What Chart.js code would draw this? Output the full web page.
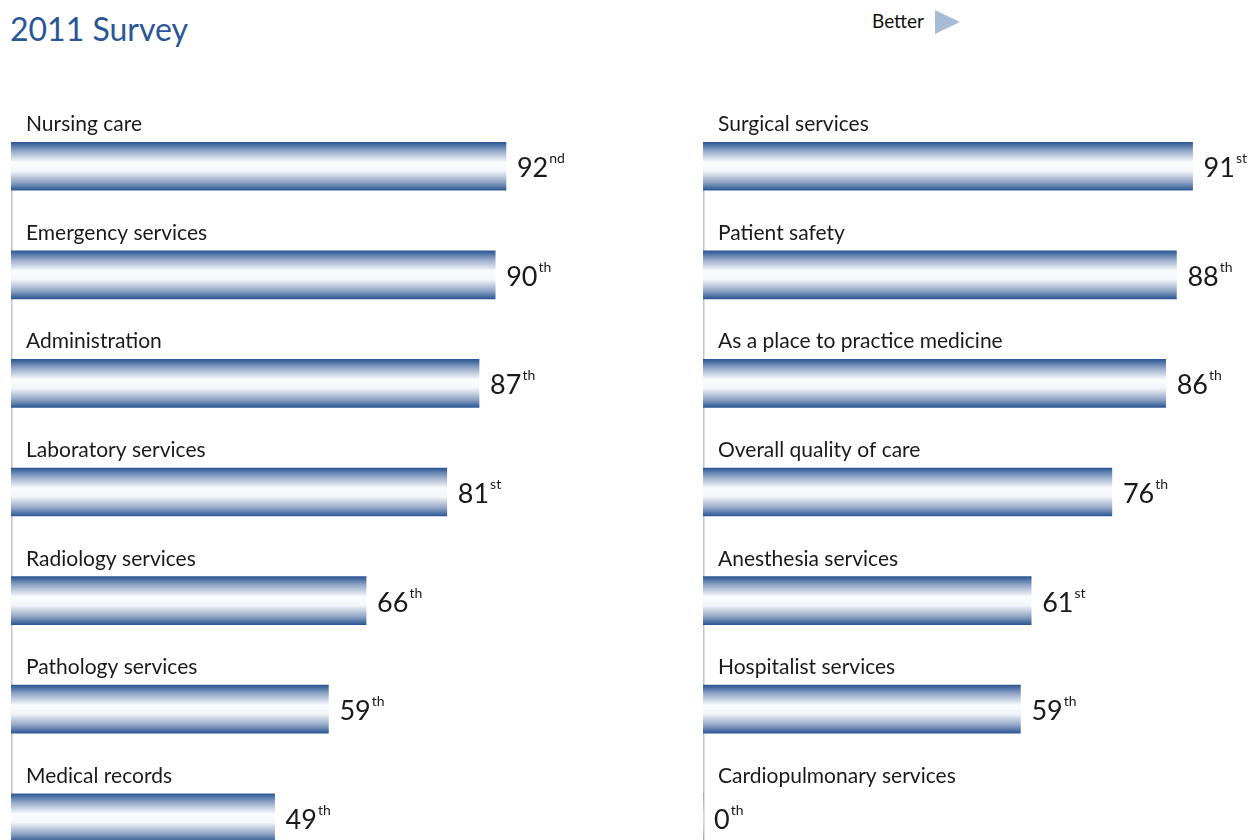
<!DOCTYPE html>
<html>
<head>
<meta charset="utf-8">
<script src="https://cdn.jsdelivr.net/npm/chart.js@4.4.1/dist/chart.umd.min.js"></script>
<style>
  html, body { margin: 0; padding: 0; background: #fff; overflow: hidden; width: 1253px; height: 840px; }
  body { position: relative; font-family: Lato, "Noto Sans", sans-serif; }
  #title { position: absolute; left: 10px; top: 9px; font-size: 32px; color: #2a5597; white-space: nowrap; }
  #better { position: absolute; left: 872px; top: 9px; font-size: 19px; color: #111; }
  #arrow { position: absolute; left: 935px; top: 10px; width: 0; height: 0;
           border-top: 12px solid transparent; border-bottom: 12px solid transparent; border-left: 25px solid #a7bcd4; }
  .box { position: absolute; top: 100px; height: 778px; }
  #leftBox { left: 0; width: 620px; }
  #rightBox { left: 692px; width: 561px; }
</style>
</head>
<body>
<div id="title">2011 Survey</div>
<div id="better">Better</div>
<div id="arrow"></div>
<div class="box" id="leftBox"><canvas id="leftChart"></canvas></div>
<div class="box" id="rightBox"><canvas id="rightChart"></canvas></div>
<script>
// data
const leftCategories = ['Nursing care', 'Emergency services', 'Administration', 'Laboratory services',
  'Radiology services', 'Pathology services', 'Medical records'];
const leftValues = [92, 90, 87, 81, 66, 59, 49];

const rightCategories = ['Surgical services', 'Patient safety', 'As a place to practice medicine',
  'Overall quality of care', 'Anesthesia services', 'Hospitalist services', 'Cardiopulmonary services'];
const rightValues = [91, 88, 86, 76, 61, 59, 0];

function ordinal(n) {
  const t = n % 100;
  if (t >= 11 && t <= 13) return 'th';
  return { 1: 'st', 2: 'nd', 3: 'rd' }[n % 10] || 'th';
}

const FONT = 'Lato, "Noto Sans", sans-serif';

// axis line from the first bar down, then cylinder gradient on each bar
const barShading = {
  id: 'barShading',
  beforeDatasetsDraw(chart) {
    const ctx = chart.ctx;
    const bars = chart.getDatasetMeta(0).data;
    const left = chart.chartArea.left;
    ctx.save();
    ctx.strokeStyle = '#c4c4c4';
    ctx.lineWidth = 1.5;
    ctx.beginPath();
    ctx.moveTo(left + 0.75, bars[0].y - bars[0].height / 2);
    ctx.lineTo(left + 0.75, chart.chartArea.bottom);
    ctx.stroke();
    ctx.restore();
    bars.forEach(bar => {
      const top = bar.y - bar.height / 2;
      const g = ctx.createLinearGradient(0, top, 0, top + bar.height);
      g.addColorStop(0, '#2b5794');
      g.addColorStop(0.18, '#93a8c8');
      g.addColorStop(0.42, '#fbfcfd');
      g.addColorStop(0.6, '#f3f5f9');
      g.addColorStop(0.84, '#8da2c3');
      g.addColorStop(1, '#2b5794');
      bar.options.backgroundColor = g;
    });
  }
};

// category names above bars and ordinal values after them
const barText = {
  id: 'barText',
  afterDatasetsDraw(chart) {
    const ctx = chart.ctx;
    const left = chart.chartArea.left;
    const ds = chart.data.datasets[0];
    ctx.save();
    chart.getDatasetMeta(0).data.forEach((bar, i) => {
      const top = bar.y - bar.height / 2;
      ctx.fillStyle = '#1a1a1a';
      ctx.textBaseline = 'alphabetic';
      ctx.font = '21px ' + FONT;
      ctx.fillText(chart.data.labels[i], left + 15, top - 11);

      const v = ds.data[i];
      const x = (v > 0 ? bar.x : left) + 11;
      ctx.font = '27px ' + FONT;
      const num = String(v);
      ctx.fillText(num, x, bar.y + 11);
      const w = ctx.measureText(num).width;
      ctx.font = '14px ' + FONT;
      ctx.fillText(ordinal(v), x + w + 1, bar.y - 3);
    });
    ctx.restore();
  }
};

function makeChart(id, labels, values, pad) {
  return new Chart(document.getElementById(id), {
    type: 'bar',
    data: {
      labels: labels,
      datasets: [{
        data: values,
        backgroundColor: () => '#2b5794',  // scriptable so each bar gets its own options
        borderWidth: 0,
        barThickness: 48
      }]
    },
    options: {
      indexAxis: 'y',
      responsive: true,
      maintainAspectRatio: false,
      animation: false,
      layout: { padding: pad },
      plugins: { legend: { display: false }, tooltip: { enabled: false } },
      scales: {
        x: { min: 0, max: 100, display: false },
        y: {
          ticks: { display: false },
          grid: { display: false, drawTicks: false },
          border: { display: false }
        }
      }
    },
    plugins: [barShading, barText]
  });
}

makeChart('leftChart', leftCategories, leftValues, { left: 11, right: 71, top: 12, bottom: 6 });
makeChart('rightChart', rightCategories, rightValues, { left: 11, right: 12, top: 12, bottom: 6 });
</script>
</body>
</html>
